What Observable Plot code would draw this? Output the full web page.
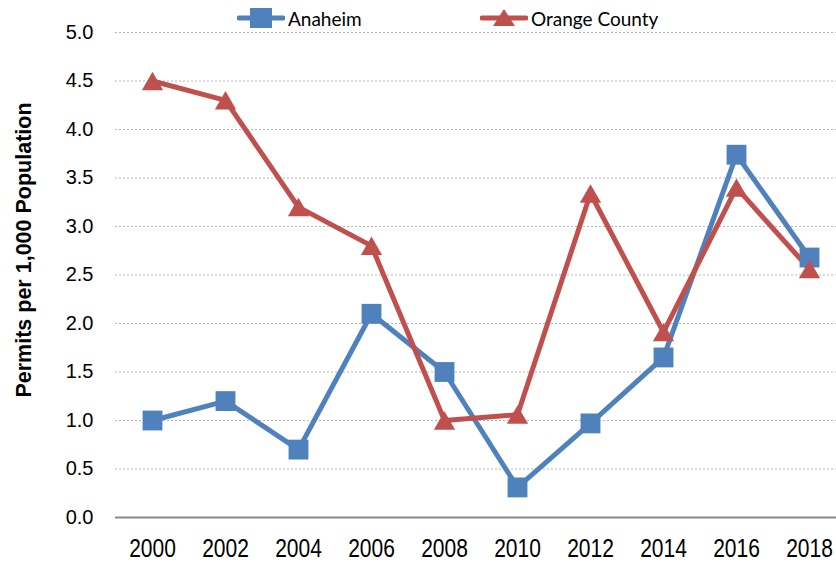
<!DOCTYPE html>
<html>
<head>
<meta charset="utf-8">
<script src="https://cdn.jsdelivr.net/npm/d3@7"></script>
<script src="https://cdn.jsdelivr.net/npm/@observablehq/plot@0.6"></script>
<style>
  html, body { margin: 0; padding: 0; background: #fff; overflow: hidden; width: 836px; height: 563px; }
  #wrap { position: relative; width: 836px; height: 563px; overflow: hidden; }
  #chart svg { max-width: none !important; }
  #legend { position: absolute; top: 4px; left: 0; width: 836px; height: 28px; font-family: Lato, "Open Sans", sans-serif; font-size: 19px; color: #000; }
  .item { position: absolute; top: 0; display: flex; align-items: center; height: 28px; }
  .item svg { margin-right: 3px; }
  #ytitle { position: absolute; left: -176px; top: 237px; width: 400px; height: 26px; line-height: 26px; text-align: center;
    transform: rotate(-90deg); transform-origin: 200px 13px; font-family: "Liberation Sans", Arial, sans-serif; font-weight: bold; font-size: 21.5px; color: #000; }
</style>
</head>
<body>
<div id="wrap">
  <div id="chart"></div>
  <div id="legend"></div>
  <div id="ytitle"></div>
</div>
<script>
const years = [2000, 2002, 2004, 2006, 2008, 2010, 2012, 2014, 2016, 2018];
const anaheim = [1.0, 1.2, 0.7, 2.1, 1.5, 0.31, 0.97, 1.65, 3.74, 2.68];
const orangeCounty = [4.5, 4.3, 3.2, 2.8, 1.0, 1.06, 3.34, 1.91, 3.40, 2.56];
const yTicks = [0, 0.5, 1.0, 1.5, 2.0, 2.5, 3.0, 3.5, 4.0, 4.5, 5.0];
const seriesNames = ["Anaheim", "Orange County"];
const yTitle = "Permits per 1,000 Population";
const colors = ["#4F81BD", "#C0504D"];

const dataA = years.map((y, i) => ({year: String(y), value: anaheim[i]}));
const dataO = years.map((y, i) => ({year: String(y), value: orangeCounty[i]}));

const chart = Plot.plot({
  width: 845,
  height: 563,
  marginLeft: 115,
  marginRight: 0,
  marginTop: 32,
  marginBottom: 46,
  style: {fontFamily: "'Liberation Sans', Arial, sans-serif", fontSize: "20px", color: "#000", background: "#fff", overflow: "visible"},
  x: {type: "point", domain: years.map(String), padding: 0.5},
  y: {domain: [0, 5], ticks: yTicks},
  marks: [
    Plot.gridY(yTicks.filter(d => d > 0), {stroke: "#b5b5b5", strokeOpacity: 1, strokeWidth: 1, strokeDasharray: "2,2"}),
    Plot.ruleY([0], {stroke: "#8a8a8a", strokeWidth: 2}),
    Plot.axisY({ticks: yTicks, tickFormat: d3.format(".1f"), tickSize: 0, tickPadding: 22, label: null}),
    Plot.axisX({tickSize: 0, tickPadding: 21, label: null, fontSize: 21}),
    Plot.line(dataA, {x: "year", y: "value", stroke: colors[0], strokeWidth: 5}),
    Plot.line(dataO, {x: "year", y: "value", stroke: colors[1], strokeWidth: 5}),
    Plot.dot(dataA, {x: "year", y: "value", symbol: "square", r: 11.2, fill: colors[0], stroke: null}),
    Plot.dot(dataO, {x: "year", y: "value", symbol: "triangle", r: 7.9, fill: colors[1], stroke: null, dy: 3})
  ]
});
// stretch the year labels vertically, as in the reference
d3.select(chart).selectAll('[aria-label="x-axis tick label"] text').each(function() {
  const t = this.getAttribute("transform") || "";
  this.setAttribute("transform", t + " scale(1,1.22)");
});
document.getElementById("chart").appendChild(chart);
document.getElementById("ytitle").textContent = yTitle;

const legend = document.getElementById("legend");
const legendLeft = [237, 480];
seriesNames.forEach((name, i) => {
  const item = document.createElement("div");
  item.className = "item";
  item.style.left = legendLeft[i] + "px";
  const sym = i === 0
    ? `<rect x="13" y="4" width="22" height="20" fill="${colors[i]}"/>`
    : `<path d="M24 5 L35 22 L13 22 Z" fill="${colors[i]}"/>`;
  item.innerHTML = `<svg width="48" height="28"><line x1="2" x2="46" y1="14" y2="14" stroke="${colors[i]}" stroke-width="5" stroke-linecap="round"/>${sym}</svg><span>${name}</span>`;
  legend.appendChild(item);
});
</script>
</body>
</html>
